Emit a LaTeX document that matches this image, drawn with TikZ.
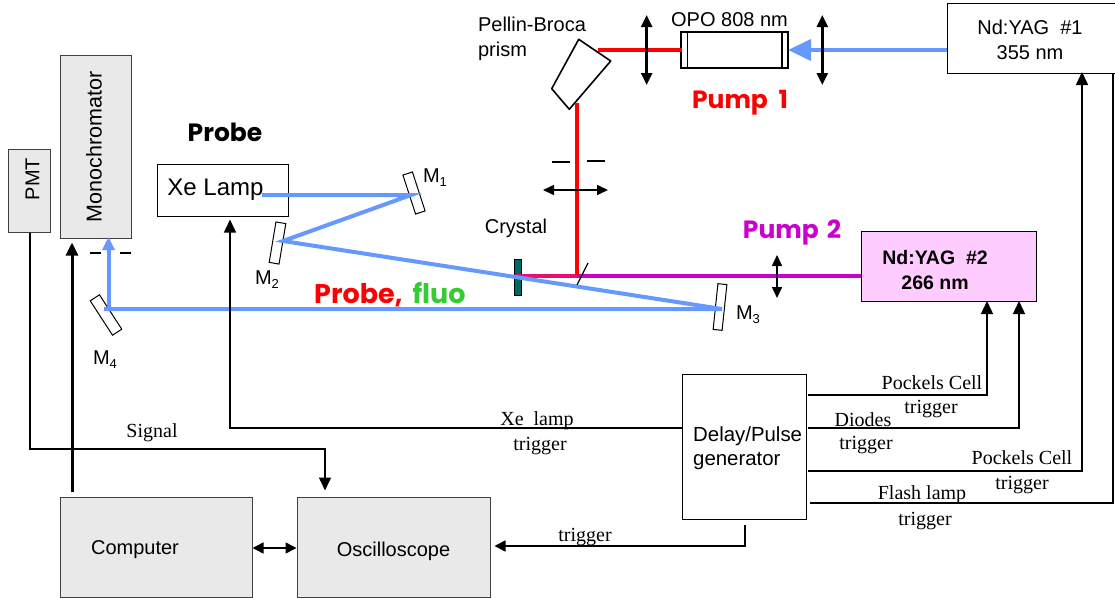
\documentclass[tikz,border=0pt]{standalone}
\usepackage{fontspec}
\setmainfont{Liberation Sans}
\newfontfamily\serifin{Liberation Serif}
\newfontfamily\handin{Poppins}
\usepackage{xcolor}
\definecolor{boxgray}{HTML}{E9E9E9}
\definecolor{beamblue}{HTML}{6699FF}
\definecolor{beamred}{HTML}{FF0000}
\definecolor{beammag}{HTML}{CC00CC}
\definecolor{beammix}{HTML}{E6106E}
\definecolor{crystalteal}{HTML}{006666}
\definecolor{yagpink}{HTML}{FFCCFF}
\definecolor{fluogreen}{HTML}{33CC33}
\usetikzlibrary{arrows.meta}
\newcommand{\msub}[1]{M\raisebox{-4pt}{\fontsize{13}{13}\selectfont #1}}

\begin{document}
\begin{tikzpicture}[
    x=1pt, y=-1pt,
    box/.style={draw=black, line width=1pt, inner sep=0pt, align=center, font=\fontsize{20}{24}\selectfont},
    graybox/.style={box, fill=boxgray, draw=black!75},
    mirror/.style={draw=black, fill=white, line width=1pt, minimum width=41pt, minimum height=10pt, inner sep=0pt},
    lab/.style={font=\fontsize{20}{25}\selectfont, inner sep=0pt, align=left},
    trig/.style={font=\fontsize{20}{20}\selectfont\serifin, inner sep=0pt},
    hand/.style={font=\fontsize{25}{28}\selectfont\handin\bfseries, inner sep=0pt},
    blue/.style={draw=beamblue, line width=4pt},
    red/.style={draw=beamred, line width=4pt},
    mag/.style={draw=beammag, line width=4pt},
    lensbig/.style={draw=black, line width=2.6pt, {Triangle[length=12pt,width=11pt]}-{Triangle[length=12pt,width=11pt]}},
    lenssmall/.style={draw=black, line width=1.6pt, {Triangle[length=11pt,width=10pt]}-{Triangle[length=11pt,width=10pt]}},
    wire/.style={draw=black, line width=1.5pt},
    wirearr/.style={wire, -{Triangle[length=13pt,width=12pt]}},
    stop/.style={draw=black, line width=1.5pt},
]
\useasboundingbox (0,0) rectangle (1115,597);

% Boites
\node[graybox, minimum width=42pt, minimum height=83pt] (pmt) at (29.5,190.5) {};
\node[lab, rotate=90] (pmttxt) at (32.5,179) {PMT};
\node[graybox, minimum width=71pt, minimum height=183pt] (mono) at (95.5,146.5) {};
\node[lab, rotate=90, font=\fontsize{21.5}{24}\selectfont] (monotxt) at (94,147) {Monochromator};
\node[box, minimum width=131pt, minimum height=52pt] (xe) at (222.5,190) {};
\node[lab, font=\fontsize{24}{26}\selectfont] (xetxt) at (215.5,190) {Xe Lamp};
\node[box, minimum width=172pt, minimum height=70pt] (yag1) at (1033,38.5) {};
\node[lab, align=center] (yag1txt) at (1030,40) {Nd:YAG\ \ \#1\\355 nm};
\node[box, fill=yagpink, minimum width=175pt, minimum height=70pt] (yag2) at (948.5,266) {};
\node[lab, align=center, font=\fontsize{19.5}{25}\selectfont\bfseries] (yag2txt) at (935,270) {Nd:YAG\ \ \#2\\266 nm};
\node[box, minimum width=124pt, minimum height=145pt] (delay) at (744.5,446.5) {};
\node[lab, font=\fontsize{20.4}{24}\selectfont, anchor=west] (delaytxt) at (693,448) {Delay/Pulse\\generator};
\node[graybox, minimum width=192pt, minimum height=100pt] (comp) at (156,547) {};
\node[lab] (comptxt) at (135,550) {Computer};
\node[graybox, minimum width=193pt, minimum height=100pt] (osc) at (393.5,547) {};
\node[lab] (osctxt) at (393.5,551) {Oscilloscope};

% Cavite OPO
\node[box, minimum width=107pt, minimum height=36pt, line width=1.6pt, outer sep=0pt] (opo) at (734.5,50) {};
\draw[line width=1.6pt] (687.3,32) -- (687.3,68);
\draw[line width=1.6pt] (781.7,32) -- (781.7,68);
\node[lab] (opotxt) at (729.5,20) {OPO 808 nm};

% Prisme
\coordinate (pa) at (578.7,39.3);
\coordinate (pb) at (610.7,61);
\coordinate (pc) at (569.3,109.3);
\coordinate (pd) at (551.7,88.7);
\draw[line width=1.6pt, line join=round] (pa) -- (pb) -- (pc) -- (pd) -- cycle;
\node[lab] (pelin) at (532,38.5) {Pellin-Broca\\prism};

% Miroirs
\node[mirror, rotate=-72] (m1) at (414,193) {};
\node[mirror, rotate=80.5] (m2) at (277.5,243) {};
\node[mirror, minimum width=46pt, minimum height=9pt, rotate=84] (m3) at (720,307) {};
\node[mirror, minimum height=11pt, rotate=-57] (m4) at (106,315) {};
\node[draw=black, fill=crystalteal, line width=0.8pt, minimum width=7pt, minimum height=36pt, inner sep=0pt] (crystal) at (518,277) {};

% Points des faisceaux
\coordinate (b0) at (262,195);
\coordinate (b1) at (411,195);
\coordinate (b2) at (283,241);
\coordinate (b3) at (722,309);
\coordinate (b4) at (104,309);
\coordinate (b5) at (108.5,309);
\coordinate (b6) at (108.5,237);
\coordinate (r0) at (598,49.5);
\coordinate (r1) at (682,49.5);
\coordinate (r2) at (577,103);
\coordinate (r3) at (577,276);
\coordinate (r4) at (515,276);

% Faisceaux
\draw[mag] (r3) -- (yag2.west |- r3);
\draw[red] (r0) -- (r1);
\draw[red] (r2) -- (r3);
\draw[draw=beammix, line width=4pt] (r4) -- (r3);
\draw[blue] (b0) -- (b1) -- (b2) -- (b3) -- (b4);
\draw[blue, -{Triangle[length=13pt,width=12pt]}] (b5) -- (b6);
\draw[blue, -{Triangle[length=23pt,width=21pt]}] (yag1.west |- opo) -- (opo.east);

% Lentilles et diaphragmes
\draw[lensbig] (646.7,15) -- (646.7,85);
\draw[lensbig] (822.3,15) -- (822.3,85);
\draw[lenssmall] (543,190) -- (608,190);
\draw[lenssmall] (777,255) -- (777,298);
\draw[line width=1.2pt] (588,263) -- (577,285);
\draw[stop] (552,162) -- (570,162);
\draw[stop] (587,161) -- (605,161);
\draw[stop] (90,253) -- (101,253);
\draw[stop] (120,253) -- (131,253);

% Fils
\coordinate (w1) at (808,395);
\coordinate (w2) at (808,428);
\coordinate (w3) at (808,471);
\coordinate (w4) at (810,503);
\coordinate (w5) at (1113,73);
\coordinate (w6) at (745,525);
\coordinate (w7) at (72,492);
\draw[wirearr, shorten >=3pt] (delay.west |- 0,428) -| (xe.south -| 230,0);
\draw[wirearr] (w1) -| (987,301);
\draw[wirearr] (w2) -| (1019,301);
\draw[wirearr] (w3) -| (1082,72);
\draw[wire] (w4) -| (w5);
\draw[wirearr, -{Triangle[length=11pt,width=11pt]}, shorten >=4pt] (w6) |- (osc.east |- 0,546);
\draw[wirearr, shorten >=6pt] (pmt.south -| 30,0) |- (325,449) -- (osc.north -| 325,0);
\draw[wirearr, line width=3pt, shorten >=4pt] (w7) -- (mono.south -| 72,0);
\draw[wire, {Triangle[length=11pt,width=11pt]}-{Triangle[length=11pt,width=11pt]}] (comp.east |- 0,548) -- (osc.west |- 0,548);

% Textes
\node[hand] (tprobe) at (225,132) {Probe};
\node[hand, text=beamred] (tpump1) at (740,103) {Pump\ \ 1};
\node[hand, text=beammag] (tpump2) at (792,232) {Pump\hspace{8pt}2};
\node[hand, font=\fontsize{27}{28}\selectfont\handin\bfseries, anchor=west] (tfluo) at (314,295) {\textcolor{beamred}{Probe,}\hspace{10pt}\textcolor{fluogreen}{fluo}};
\node[lab] (tcrystal) at (516,228) {Crystal};
\node[lab] (tm1) at (435,178) {\msub{1}};
\node[lab] (tm2) at (267,280) {\msub{2}};
\node[lab] (tm3) at (748,315) {\msub{3}};
\node[lab] (tm4) at (105,360) {\msub{4}};
\node[trig] (t1) at (152,433) {Signal};
\node[trig] (t2) at (537,421) {Xe\ \ lamp};
\node[trig] (t3) at (540,446) {trigger};
\node[trig] (t4) at (932,383) {Pockels Cell};
\node[trig] (t5) at (931,409) {trigger};
\node[trig] (t6) at (863,420) {Diodes};
\node[trig] (t7) at (866,445) {trigger};
\node[trig] (t8) at (1022,458) {Pockels Cell};
\node[trig] (t9) at (1022,485) {trigger};
\node[trig] (t10) at (922,495) {Flash lamp};
\node[trig] (t11) at (925,521) {trigger};
\node[trig] (t12) at (585,537) {trigger};

\end{tikzpicture}
\end{document}
